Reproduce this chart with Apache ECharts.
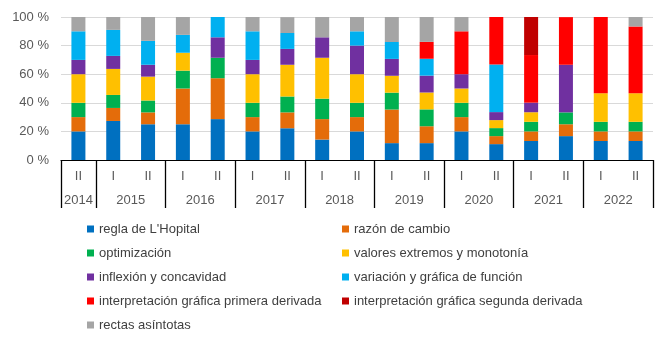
<!DOCTYPE html>
<html>
<head>
<meta charset="utf-8">
<script src="https://cdn.jsdelivr.net/npm/echarts@6/dist/echarts.min.js"></script>
<style>
    html,body{ margin:0; padding:0; background:#fff; }
    #chart{ width:661px; height:344px; }
</style>
</head>
<body>
<div id="chart"></div>
<script>
    // semestres (eje x) y años
    const semesters = ['II','I','II','I','II','I','II','I','II','I','II','I','II','I','II','I','II']
    const years = ['2014','2015','2016','2017','2018','2019','2020','2021','2022']
    const semestersPerYear = [1,2,2,2,2,2,2,2,2]
    const yTicks = [0,20,40,60,80,100]

    // porcentaje de cada tema por semestre
    const hopital   = [20,27.3,25,25,28.6,20,22.2,14.3,20,11.8,11.8,20,11.1,13.3,16.7,13.3,13.3]
    const razon     = [10,9.1,8.3,25,28.6,10,11.1,14.3,10,23.5,11.8,10,5.6,6.7,8.3,6.7,6.7]
    const optim     = [10,9.1,8.3,12.5,14.3,10,11.1,14.3,10,11.8,11.8,10,5.6,6.7,8.3,6.7,6.7]
    const valores   = [20,18.2,16.7,12.5,0,20,22.2,28.6,20,11.8,11.8,10,5.6,6.7,0,20,20]
    const inflexion = [10,9.1,8.3,0,14.3,10,11.1,14.3,20,11.8,11.8,10,5.6,6.7,33.3,0,0]
    const variacion = [20,18.2,16.7,12.5,14.3,20,11.1,0,10,11.8,11.8,0,33.3,0,0,0,0]
    const primera   = [0,0,0,0,0,0,0,0,0,0,11.8,30,33.3,33.3,33.3,53.3,46.7]
    const segunda   = [0,0,0,0,0,0,0,0,0,0,0,0,0,26.7,0,0,0]
    const asintotas = [10,9.1,16.7,12.5,0,10,11.1,14.3,10,17.6,17.6,10,0,0,0,0,6.7]

    const seriesDefs = [
        { name:"regla de L'Hopital", data:hopital, color:'#0070C0' },
        { name:'razón de cambio', data:razon, color:'#E46C0A' },
        { name:'optimización', data:optim, color:'#00B050' },
        { name:'valores extremos y monotonía', data:valores, color:'#FFC000' },
        { name:'inflexión y concavidad', data:inflexion, color:'#7030A0' },
        { name:'variación y gráfica de función', data:variacion, color:'#00B0F0' },
        { name:'interpretación gráfica primera derivada', data:primera, color:'#FF0000' },
        { name:'interpretación gráfica segunda derivada', data:segunda, color:'#C00000' },
        { name:'rectas asíntotas', data:asintotas, color:'#A5A5A5' }
    ]

    // limites y centros de cada año en unidades de categoria
    const yearBounds = [0]
    const yearCenters = []
    semestersPerYear.forEach((n) => {
        const start = yearBounds[yearBounds.length - 1]
        yearCenters.push(start + n / 2)
        yearBounds.push(start + n)
    })

    const font = 'Liberation Sans, Arial, sans-serif'
    const textGray = '#595959'

    const legendBase = {
        orient:'vertical',
        top:217,
        itemWidth:7,
        itemHeight:7,
        itemGap:10,
        icon:'rect',
        selectedMode:false,
        textStyle:{ fontFamily:font, fontSize:13, color:'#404040', lineHeight:14 }
    }

    const option = {
        animation:false,
        textStyle:{ fontFamily:font },
        grid:{ left:61, right:8, top:17, bottom:184 },
        legend:[
            Object.assign({}, legendBase, {
                left:82,
                data:seriesDefs.filter((s, i) => i % 2 === 0).map(s => s.name)
            }),
            Object.assign({}, legendBase, {
                left:337,
                data:seriesDefs.filter((s, i) => i % 2 === 1).map(s => s.name)
            })
        ],
        xAxis:[
            {
                type:'category',
                position:'bottom',
                data:semesters,
                axisLine:{ lineStyle:{ color:'#000', width:1 } },
                axisTick:{ length:24, lineStyle:{ color:'#000', width:1.3 } },
                axisLabel:{ color:textGray, fontSize:13, margin:10, fontFamily:font }
            },
            {
                type:'value',
                position:'bottom',
                min:0,
                max:semesters.length,
                axisLine:{ show:false },
                splitLine:{ show:false },
                axisTick:{
                    show:true,
                    length:48,
                    customValues:yearBounds,
                    lineStyle:{ color:'#000', width:1.3 }
                },
                axisLabel:{
                    color:textGray,
                    fontSize:13,
                    fontFamily:font,
                    margin:34,
                    customValues:yearCenters,
                    formatter:(value) => {
                        const i = yearCenters.indexOf(value)
                        return i >= 0 ? years[i] : ''
                    }
                }
            }
        ],
        yAxis:{
            type:'value',
            min:yTicks[0],
            max:yTicks[yTicks.length - 1],
            interval:20,
            axisLine:{ show:false },
            axisTick:{ show:false },
            splitLine:{ lineStyle:{ color:'#D9D9D9', width:1 } },
            axisLabel:{
                color:textGray,
                fontSize:13,
                fontFamily:font,
                margin:12,
                formatter:'{value} %'
            }
        },
        series:seriesDefs.map((s) => ({
            type:'bar',
            name:s.name,
            stack:'total',
            data:s.data,
            barWidth:14,
            itemStyle:{ color:s.color }
        }))
    }

    const chartInstance = echarts.init(document.getElementById('chart'))
    chartInstance.setOption(option)
</script>
</body>
</html>
